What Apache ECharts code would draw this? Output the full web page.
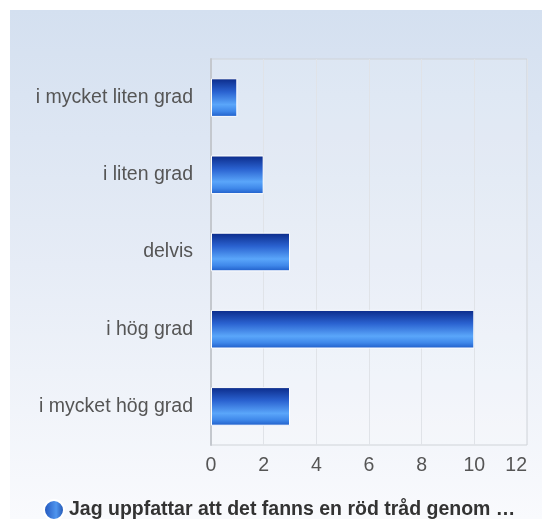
<!DOCTYPE html>
<html>
<head>
<meta charset="utf-8">
<script src="https://cdn.jsdelivr.net/npm/echarts@6/dist/echarts.min.js"></script>
<style>
html,body{margin:0;padding:0;background:#fff;}
#bg{position:absolute;left:10px;top:10px;width:532px;height:509px;background:linear-gradient(to bottom,#d4e0f0 0%,#e6ecf6 50%,#f9fafd 100%);}
#chart{position:absolute;left:0;top:0;width:542px;height:519px;}
</style>
</head>
<body>
<div id="bg"></div>
<div id="chart"></div>
<script>
const categories = ["i mycket liten grad", "i liten grad", "delvis", "i hög grad", "i mycket hög grad"];
const values = [1, 2, 3, 10, 3];
const seriesName = "Jag uppfattar att det fanns en röd tråd genom …";
const xTicks = [0, 2, 4, 6, 8, 10, 12];

const chart = echarts.init(document.getElementById('chart'), null, {renderer: 'canvas'});
const barGrad = new echarts.graphic.LinearGradient(0, 0, 0, 1, [
  {offset: 0, color: '#0b2a88'},
  {offset: 0.35, color: '#2a62d0'},
  {offset: 0.68, color: '#5aa6fa'},
  {offset: 0.85, color: '#3f88ea'},
  {offset: 1, color: '#1e5cc8'}
]);
const legGrad = new echarts.graphic.LinearGradient(0, 0, 1, 0, [
  {offset: 0, color: '#1d4fb8'},
  {offset: 0.6, color: '#4f95ee'},
  {offset: 1, color: '#1a4aa8'}
]);
chart.setOption({
  animation: false,
  backgroundColor: 'transparent',
  textStyle: {fontFamily: '"Liberation Sans", Arial, sans-serif'},
  grid: {left: 211, top: 59, right: 15, bottom: 74, show: true, borderColor: '#cfd3d8', borderWidth: 1, backgroundColor: 'rgba(255,255,255,0.15)'},
  legend: {
    bottom: -7, left: 38,
    icon: 'circle', itemWidth: 20, itemHeight: 20, itemGap: 6,
    textStyle: {fontSize: 19.5, fontWeight: 'bold', color: '#333'},
    data: [{name: seriesName, itemStyle: {color: legGrad}}]
  },
  xAxis: {
    type: 'value', min: xTicks[0], max: xTicks[xTicks.length - 1], interval: 2,
    axisLine: {show: false}, axisTick: {show: false},
    splitLine: {show: true, lineStyle: {color: '#e0e3e8', width: 1}},
    axisLabel: {fontSize: 19.5, color: '#555', margin: 11, alignMaxLabel: 'right'}
  },
  yAxis: {
    type: 'category', data: categories, inverse: true,
    axisLine: {show: true, lineStyle: {color: '#c4c8ce', width: 2}},
    axisTick: {show: false},
    axisLabel: {fontSize: 19.5, color: '#555', margin: 18, padding: [4, 0, 0, 0]}
  },
  series: [{
    name: seriesName, type: 'bar', data: values,
    barWidth: '50%',
    itemStyle: {color: barGrad, borderColor: '#ffffff', borderWidth: 1}
  }]
});
</script>
</body>
</html>
